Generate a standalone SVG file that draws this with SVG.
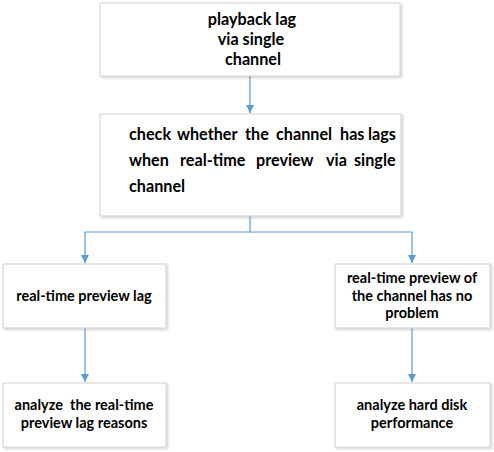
<svg xmlns="http://www.w3.org/2000/svg" width="494" height="452" viewBox="0 0 494 452">
<style>
.box{fill:#fff;stroke:#d0d0d0;stroke-width:1;filter:url(#sh)}
.t{font-family:Lato,"Open Sans",sans-serif;font-weight:bold;font-size:14.5px;fill:#000}
.b{font-size:16.2px}
.c{text-anchor:middle}
.ln{fill:none;stroke:#5b9bd5;stroke-width:1.2}
</style>
<defs>
<filter id="sh" x="-10%" y="-10%" width="120%" height="130%">
<feDropShadow dx="1.5" dy="1.5" stdDeviation="1" flood-color="#000" flood-opacity="0.18"/>
</filter>
<marker id="ah" markerWidth="10" markerHeight="10" refX="8" refY="4" orient="auto" markerUnits="userSpaceOnUse">
<path d="M0,0 L8,4 L0,8 z" fill="#5b9bd5"/>
</marker>
</defs>
<g id="connectors">
<path class="ln" d="M250,76 V113" marker-end="url(#ah)"/>
<path class="ln" d="M250,216 V232 H85 V263" marker-end="url(#ah)"/>
<path class="ln" d="M250,232 H412 V263" marker-end="url(#ah)"/>
<path class="ln" d="M85,328 V382" marker-end="url(#ah)"/>
<path class="ln" d="M412,328 V382" marker-end="url(#ah)"/>
</g>
<g id="n1">
<rect class="box" x="100" y="3" width="300" height="73"/>
<text class="t b c" x="252" y="25">playback lag</text>
<text class="t b c" x="251" y="45">via single</text>
<text class="t b c" x="253" y="65">channel</text>
</g>
<g id="n2">
<rect class="box" x="100" y="114" width="301" height="102"/>
<text class="t b" y="140"><tspan x="129">check</tspan><tspan x="177">whether</tspan><tspan x="245">the</tspan><tspan x="276">channel</tspan><tspan x="340">has</tspan><tspan x="368">lags</tspan></text>
<text class="t b" y="166"><tspan x="129">when</tspan><tspan x="180">real-time</tspan><tspan x="256">preview</tspan><tspan x="326">via</tspan><tspan x="354">single</tspan></text>
<text class="t b" x="129" y="192">channel</text>
</g>
<g id="n3">
<rect class="box" x="3" y="264" width="163" height="64"/>
<text class="t c" x="84" y="301">real-time preview lag</text>
</g>
<g id="n4">
<rect class="box" x="335" y="264" width="155" height="64"/>
<text class="t c" x="412" y="283">real-time preview of</text>
<text class="t c" x="412" y="301">the channel has no</text>
<text class="t c" x="412" y="318">problem</text>
</g>
<g id="n5">
<rect class="box" x="3" y="383" width="163" height="64"/>
<text class="t c" x="84" y="410" xml:space="preserve">analyze  the real-time</text>
<text class="t c" x="84" y="428">preview lag reasons</text>
</g>
<g id="n6">
<rect class="box" x="335" y="383" width="155" height="64"/>
<text class="t c" x="412" y="410">analyze hard disk</text>
<text class="t c" x="412" y="428">performance</text>
</g>
</svg>
